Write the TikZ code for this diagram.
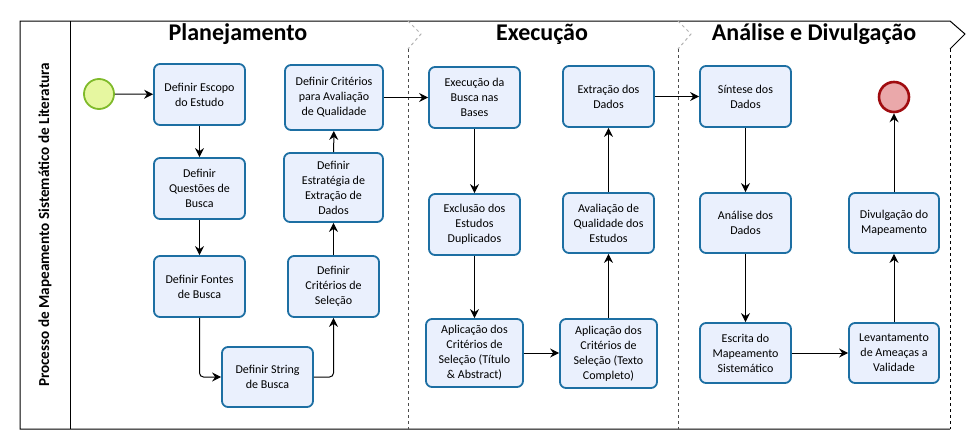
\documentclass[tikz,border=0pt]{standalone}
\usepackage{fontspec}
\setmainfont{Carlito}
\usepackage{tikz}
\usetikzlibrary{arrows.meta}

\definecolor{taskfill}{HTML}{EAF0FD}
\definecolor{taskline}{HTML}{1D6FA3}
\definecolor{startfill}{HTML}{E6F7A0}
\definecolor{startline}{HTML}{7FBA2A}
\definecolor{endfill}{HTML}{EAA8AA}
\definecolor{endline}{HTML}{A00C10}

\begin{document}
\begin{tikzpicture}[
        x=1pt, y=-1pt,
        task/.style 2 args={draw=taskline,fill=taskfill,line width=1.8pt,rounded corners=6pt,
            minimum width=#1,minimum height=#2,align=center,inner sep=1pt,
            font=\fontsize{12}{15}\selectfont},
        event/.style 2 args={circle,draw=#1,fill=#2,minimum size=30pt,inner sep=0pt},
        phase/.style={font=\fontsize{24}{26}\selectfont\bfseries},
        flow/.style={-{Stealth[length=9pt,width=9pt,inset=3pt]}},
        every path/.append style={line width=1pt}
    ]
        \useasboundingbox (0,0) rectangle (970,447);

        \draw (950,429) -- (20,429) -- (20,21) -- (950,21) -- (965,34) -- (950,49);
        \draw [dashed] (950,49) -- (950,429);
        \draw (70,21) -- (70,429);
        \foreach \px in {408,678} {
            \draw [gray!60,dashed] (\px,21) -- (\px+13,34) -- (\px,49);
            \draw [black!70,dashed] (\px,49) -- (\px,429);
        }

        \node [rotate=90,font=\fontsize{15.2}{17}\selectfont\bfseries] (pool) at (45,225)
            {Processo de Mapeamento Sistemático de Literatura};

        \node [phase] (planejamento) at (238,34) {Planejamento};
        \node [phase] (execucao)     at (542,34) {Execução};
        \node [phase] (analise)      at (814,34) {Análise e Divulgação};

        \node [event={startline}{startfill},line width=1.8pt] (inicio) at (99,94) {};
        \node [event={endline}{endfill},line width=2.6pt] (fim) at (894,97) {};

        \node [task={91pt}{61pt}] (escopo)     at (199.5,94.5)  {Definir Escopo\\do Estudo};
        \node [task={91pt}{61pt}] (questoes)   at (199.5,188.5) {Definir\\Questões de\\Busca};
        \node [task={91pt}{61pt}] (fontes)     at (199.5,286.5) {Definir Fontes\\de Busca};
        \node [task={91pt}{60pt}] (string)     at (267.5,377)   {Definir String\\de Busca};
        \node [task={91pt}{61pt}] (criterios)  at (333.5,286.5) {Definir\\Critérios de\\Seleção};
        \node [task={99pt}{69pt}] (estrategia) at (333.5,187.5) {Definir\\Estratégia de\\Extração de\\Dados};
        \node [task={98pt}{65pt}] (qualidade)  at (334,97.5)    {Definir Critérios\\para Avaliação\\de Qualidade};

        \node [task={91pt}{61pt}] (busca)      at (474.5,97.5)  {Execução da\\Busca nas\\Bases};
        \node [task={91pt}{61pt}] (duplicados) at (474.5,224.5) {Exclusão dos\\Estudos\\Duplicados};
        \node [task={97pt}{68pt}] (titulo)     at (474.5,353)   {Aplicação dos\\Critérios de\\Seleção (Título\\\& Abstract)};
        \node [task={97pt}{69pt}] (completo)   at (608.5,353.5) {Aplicação dos\\Critérios de\\Seleção (Texto\\Completo)};
        \node [task={91pt}{60pt}] (avaliacao)  at (608.5,223)   {Avaliação de\\Qualidade dos\\Estudos};
        \node [task={91pt}{61pt}] (extracao)   at (608.5,96.5)  {Extração dos\\Dados};

        \node [task={91pt}{61pt}] (sintese)    at (745.5,96.5)  {Síntese dos\\Dados};
        \node [task={91pt}{60pt}] (dados)      at (745.5,223)   {Análise dos\\Dados};
        \node [task={91pt}{60pt}] (escrita)    at (745.5,353)   {Escrita do\\Mapeamento\\Sistemático};
        \node [task={90pt}{60pt}] (ameacas)    at (894,353)     {Levantamento\\de Ameaças a\\Validade};
        \node [task={90pt}{60pt}] (divulgacao) at (894,223)     {Divulgação do\\Mapeamento};

        \draw [flow] (inicio) -- (escopo);
        \draw [flow] (escopo) -- (questoes);
        \draw [flow] (questoes) -- (fontes);
        \draw [flow,rounded corners=4pt] (fontes.south) |- (string.west);
        \draw [flow,rounded corners=4pt] (string.east) -| (criterios.south);
        \draw [flow] (criterios) -- (estrategia);
        \draw [flow] (estrategia) -- (qualidade);
        \draw [flow] (qualidade) -- (busca);

        \draw [flow] (busca) -- (duplicados);
        \draw [flow] (duplicados) -- (titulo);
        \draw [flow] (titulo) -- (titulo -| completo.west);
        \draw [flow] (completo) -- (avaliacao);
        \draw [flow] (avaliacao) -- (extracao);
        \draw [flow] (extracao) -- (sintese);

        \draw [flow] (sintese) -- (dados);
        \draw [flow] (dados) -- (escrita);
        \draw [flow] (escrita) -- (ameacas);
        \draw [flow] (ameacas) -- (divulgacao);
        \draw [flow] (divulgacao) -- (fim);
    \end{tikzpicture}
\end{document}
